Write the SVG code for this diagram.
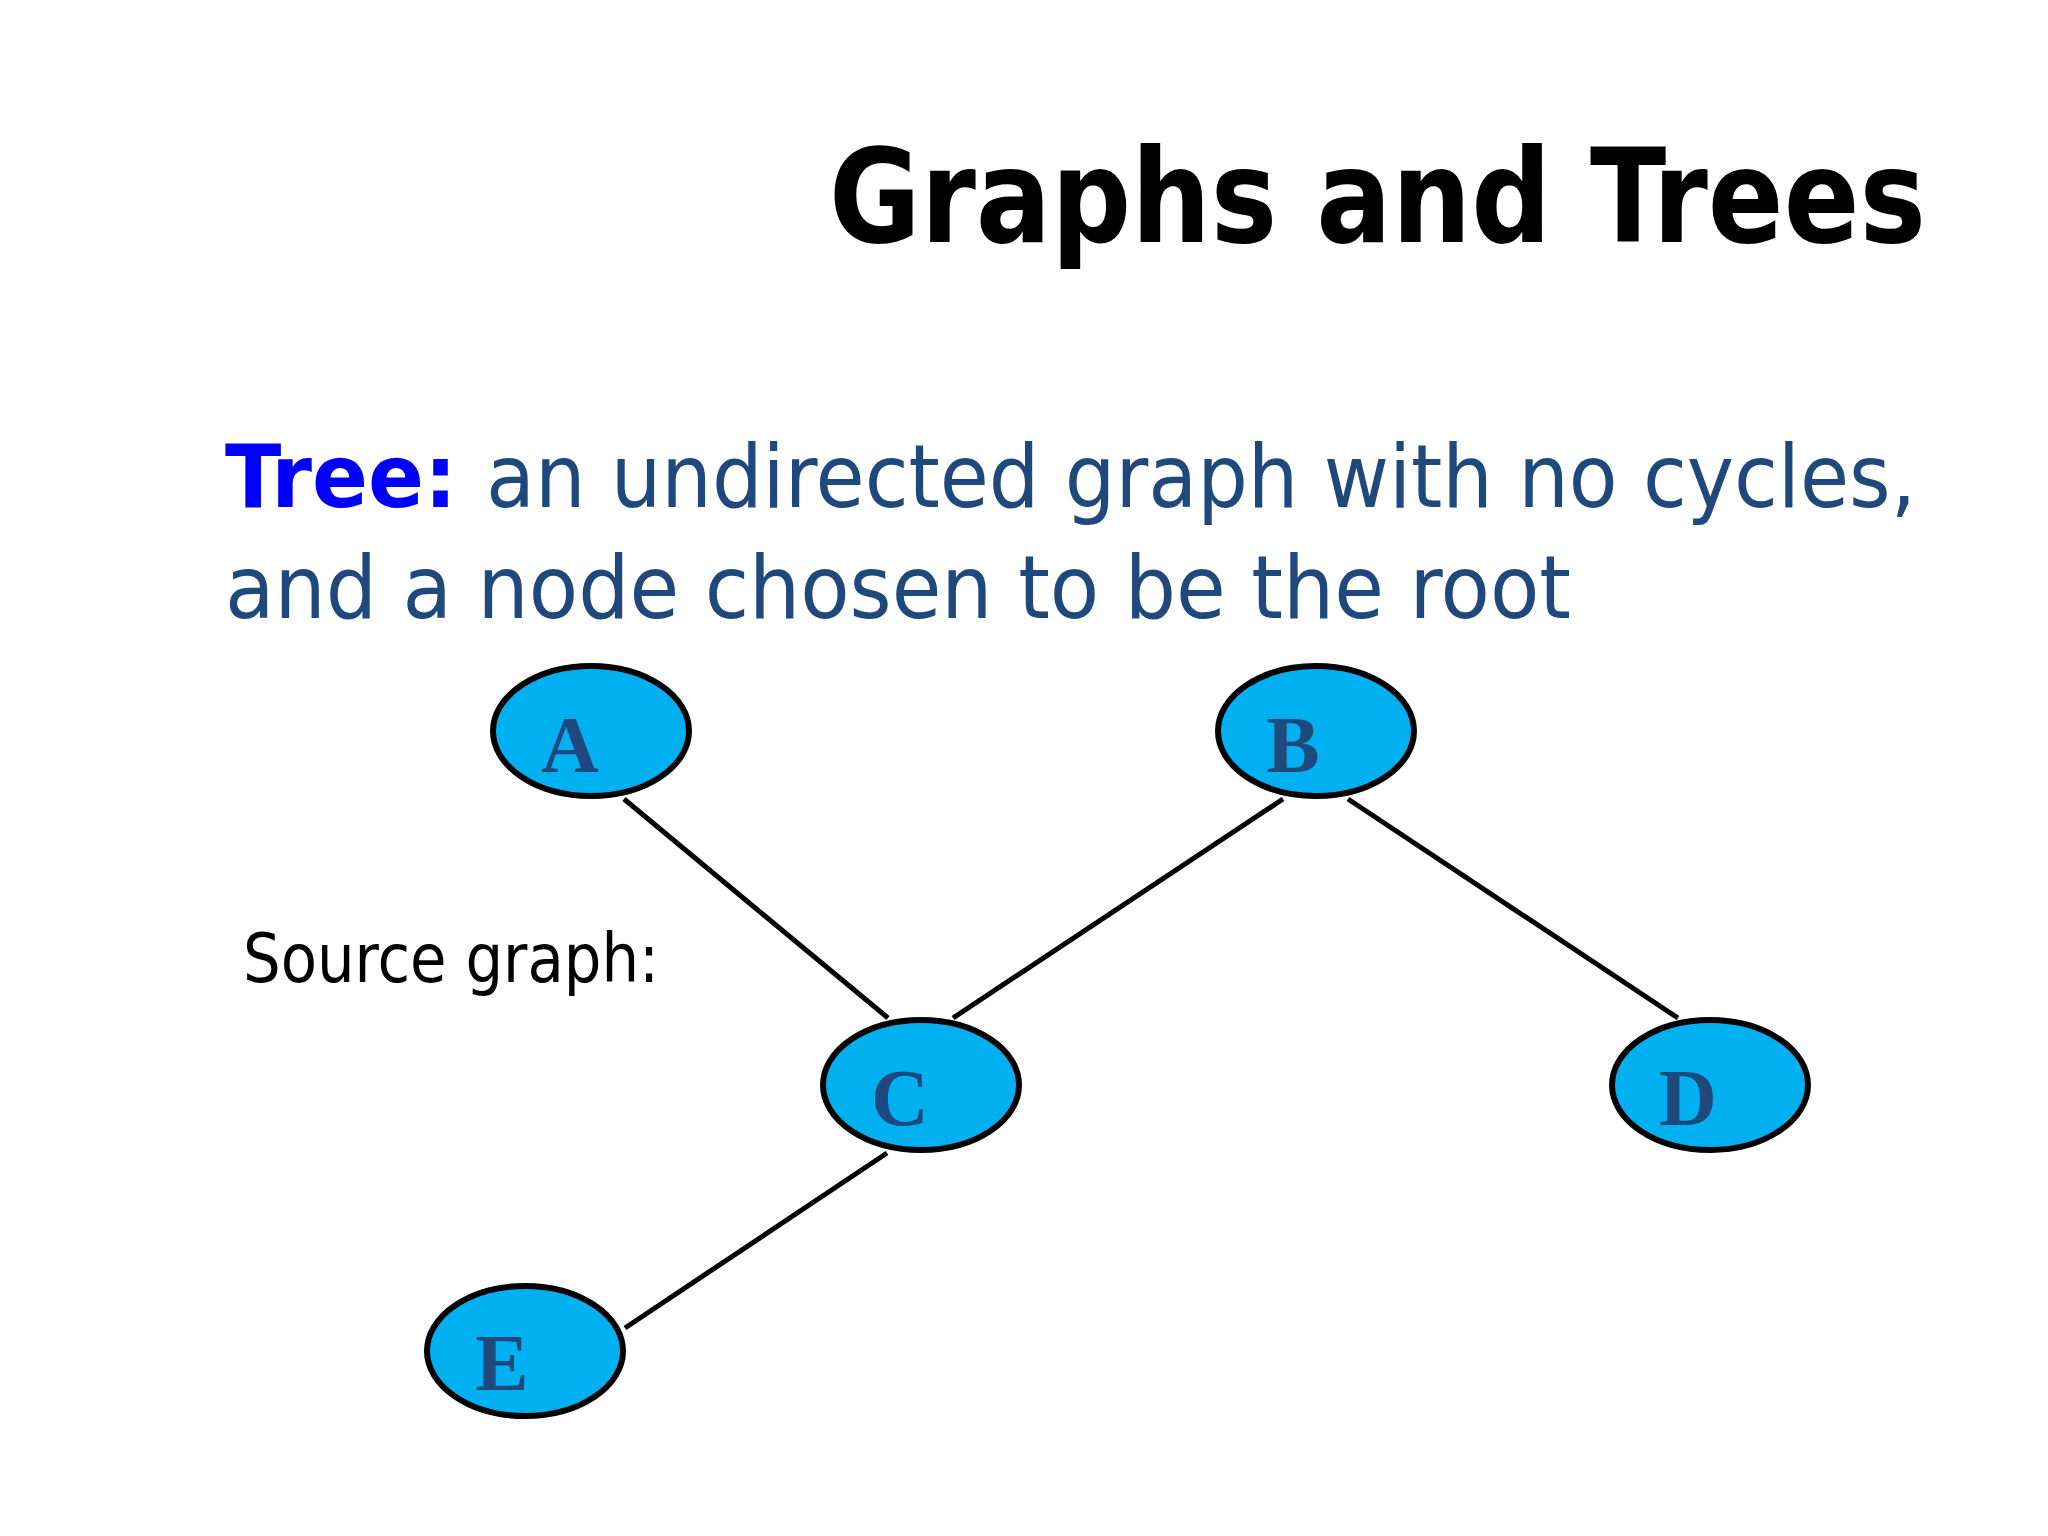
<svg xmlns="http://www.w3.org/2000/svg" width="2048" height="1536" viewBox="0 0 2048 1536">
<style>
.title{font-family:"DejaVu Sans","Liberation Sans",sans-serif;font-stretch:condensed;font-weight:bold;font-size:130px;fill:#000}
.body{font-family:"DejaVu Sans","Liberation Sans",sans-serif;font-stretch:condensed;font-size:88px;fill:#1F497D}
.kw{font-family:"DejaVu Sans","Liberation Sans",sans-serif;font-stretch:condensed;font-weight:bold;font-size:88px;fill:#0000FF}
.label{font-family:"DejaVu Sans","Liberation Sans",sans-serif;font-stretch:condensed;font-size:68px;fill:#000}
.node ellipse{fill:#00B0F0;stroke:#000;stroke-width:6}
.node text{font-family:"Liberation Serif","Times New Roman",serif;font-weight:bold;font-size:80px;fill:#1F497D;text-anchor:middle}
.edges line{stroke:#000;stroke-width:5}
</style>
<rect width="2048" height="1536" fill="#FFFFFF"/>
<text class="title" x="829" y="242" textLength="1097" lengthAdjust="spacingAndGlyphs">Graphs and Trees</text>
<text class="kw" x="225" y="507" textLength="232" lengthAdjust="spacingAndGlyphs">Tree:</text>
<text class="body" x="486" y="507" textLength="1430" lengthAdjust="spacingAndGlyphs">an undirected graph with no cycles,</text>
<text class="body" x="225" y="618" textLength="1346" lengthAdjust="spacingAndGlyphs">and a node chosen to be the root</text>
<text class="label" x="243" y="982" textLength="416" lengthAdjust="spacingAndGlyphs">Source graph:</text>
<g class="edges">
<line x1="624" y1="799" x2="888" y2="1018"/>
<line x1="1283" y1="799" x2="953" y2="1018"/>
<line x1="1348" y1="799" x2="1678" y2="1018"/>
<line x1="887" y1="1153" x2="625" y2="1328"/>
</g>
<g id="node-A" class="node"><ellipse cx="591" cy="731" rx="98" ry="65"/><text x="570" y="772">A</text></g>
<g id="node-B" class="node"><ellipse cx="1316" cy="731" rx="98" ry="65"/><text x="1293" y="772">B</text></g>
<g id="node-C" class="node"><ellipse cx="921" cy="1085" rx="98" ry="65"/><text x="900" y="1125">C</text></g>
<g id="node-D" class="node"><ellipse cx="1710" cy="1085" rx="98" ry="65"/><text x="1688" y="1125">D</text></g>
<g id="node-E" class="node"><ellipse cx="525" cy="1351" rx="98" ry="65"/><text x="502" y="1390">E</text></g>
</svg>
